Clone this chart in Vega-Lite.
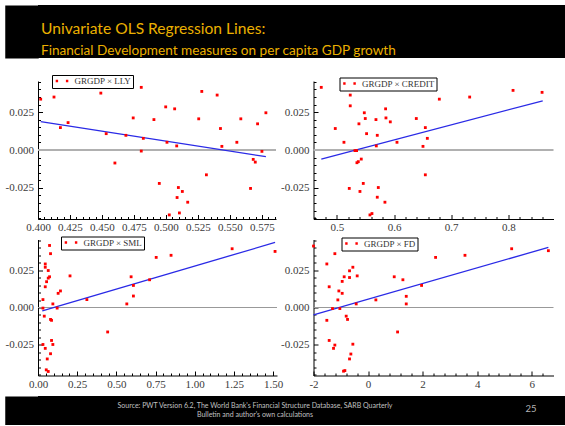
{
  "$schema": "https://vega.github.io/schema/vega-lite/v6.json",
  "background": "white",
  "padding": {"left": 5, "top": 5, "right": 0, "bottom": 0},
  "config": {
    "view": {"stroke": null},
    "axis": {"domainColor": "#000000", "domainWidth": 1, "tickColor": "#000000", "tickWidth": 1, "labelFont": "Liberation Serif", "labelFontSize": 11, "labelColor": "#3a3a3a", "grid": false, "title": null, "labelOverlap": false, "labelFlush": false},
    "legend": {"orient": "none", "title": null, "direction": "horizontal", "fillColor": "white", "strokeColor": "#000000", "padding": 1.5, "symbolType": "M-2.1,-0.4h0.8v0.8h-0.8zM1.3,-0.4h0.8v0.8h-0.8z", "symbolSize": 36, "symbolStrokeWidth": 0, "labelFont": "Liberation Serif", "labelFontSize": 9, "labelColor": "#333333", "labelOffset": 8, "symbolOffset": 4},
    "title": {"font": "Lato", "fontWeight": "normal", "subtitleFont": "Lato", "subtitleFontWeight": "normal", "color": "#bdbdbd", "subtitleColor": "#bdbdbd"}
  },
  "datasets": {
    "lly": [
      {"x": 0.4021, "y": 0.0336}, {"x": 0.4125, "y": 0.0350}, {"x": 0.4175, "y": 0.0148}, {"x": 0.4235, "y": 0.0181},
      {"x": 0.4491, "y": 0.0376}, {"x": 0.4533, "y": 0.0108}, {"x": 0.4601, "y": -0.0086}, {"x": 0.4687, "y": 0.0097},
      {"x": 0.4744, "y": 0.0212}, {"x": 0.4807, "y": 0.0414}, {"x": 0.4807, "y": -0.0007}, {"x": 0.4823, "y": 0.0077},
      {"x": 0.4906, "y": 0.0201}, {"x": 0.4948, "y": -0.0221}, {"x": 0.4998, "y": 0.0285}, {"x": 0.5008, "y": 0.0051},
      {"x": 0.5026, "y": -0.0429}, {"x": 0.5068, "y": 0.0272}, {"x": 0.5084, "y": 0.0027}, {"x": 0.5087, "y": -0.0314},
      {"x": 0.5097, "y": -0.0248}, {"x": 0.5105, "y": -0.0416}, {"x": 0.5128, "y": -0.0274}, {"x": 0.5170, "y": -0.0345},
      {"x": 0.5256, "y": 0.0206}, {"x": 0.5280, "y": 0.0387}, {"x": 0.5316, "y": -0.0164}, {"x": 0.5400, "y": 0.0363},
      {"x": 0.5426, "y": 0.0142}, {"x": 0.5437, "y": 0.0024}, {"x": 0.5554, "y": 0.0051}, {"x": 0.5585, "y": 0.0206},
      {"x": 0.5661, "y": -0.0254}, {"x": 0.5682, "y": -0.0062}, {"x": 0.5698, "y": -0.0080}, {"x": 0.5716, "y": 0.0173},
      {"x": 0.5750, "y": -0.0009}, {"x": 0.5781, "y": 0.0246}
    ],
    "lly_fit": [{"x": 0.4021, "y": 0.0188}, {"x": 0.5781, "y": -0.0044}],
    "credit": [
      {"x": 0.4726, "y": 0.0414}, {"x": 0.4971, "y": 0.0142}, {"x": 0.5123, "y": 0.0051}, {"x": 0.5216, "y": -0.0254},
      {"x": 0.5233, "y": 0.0363}, {"x": 0.5233, "y": 0.0292}, {"x": 0.5315, "y": -0.0004}, {"x": 0.5344, "y": -0.0004},
      {"x": 0.5350, "y": -0.0084}, {"x": 0.5374, "y": -0.0077}, {"x": 0.5385, "y": 0.0173}, {"x": 0.5403, "y": -0.0274},
      {"x": 0.5426, "y": -0.0060}, {"x": 0.5461, "y": -0.0221}, {"x": 0.5479, "y": 0.0246}, {"x": 0.5496, "y": 0.0208},
      {"x": 0.5519, "y": 0.0108}, {"x": 0.5578, "y": -0.0429}, {"x": 0.5613, "y": -0.0420}, {"x": 0.5683, "y": 0.0201},
      {"x": 0.5689, "y": 0.0027}, {"x": 0.5706, "y": 0.0097}, {"x": 0.5706, "y": -0.0312}, {"x": 0.5724, "y": -0.0248},
      {"x": 0.5840, "y": -0.0345}, {"x": 0.5852, "y": 0.0272}, {"x": 0.5858, "y": 0.0212}, {"x": 0.5934, "y": 0.0186},
      {"x": 0.6051, "y": 0.0051}, {"x": 0.6389, "y": 0.0208}, {"x": 0.6506, "y": 0.0024}, {"x": 0.6547, "y": 0.0148},
      {"x": 0.6547, "y": -0.0164}, {"x": 0.6582, "y": 0.0077}, {"x": 0.6792, "y": 0.0336}, {"x": 0.7323, "y": 0.0350},
      {"x": 0.8082, "y": 0.0394}, {"x": 0.8590, "y": 0.0381}
    ],
    "credit_fit": [{"x": 0.4726, "y": -0.0060}, {"x": 0.8601, "y": 0.0325}],
    "sml": [
      {"x": 0.0316, "y": 0.0053}, {"x": 0.0316, "y": -0.0004}, {"x": 0.0316, "y": -0.0248}, {"x": 0.0400, "y": -0.0058},
      {"x": 0.0463, "y": -0.0274}, {"x": 0.0463, "y": 0.0139}, {"x": 0.0463, "y": 0.0292}, {"x": 0.0463, "y": 0.0270},
      {"x": 0.0548, "y": 0.0173}, {"x": 0.0527, "y": -0.0418}, {"x": 0.0590, "y": -0.0345}, {"x": 0.0653, "y": 0.0248},
      {"x": 0.0653, "y": -0.0429}, {"x": 0.0653, "y": 0.0197}, {"x": 0.0737, "y": 0.0206}, {"x": 0.0737, "y": 0.0416},
      {"x": 0.0800, "y": 0.0361}, {"x": 0.0800, "y": -0.0310}, {"x": 0.0800, "y": -0.0080}, {"x": 0.0864, "y": -0.0086},
      {"x": 0.0864, "y": -0.0221}, {"x": 0.0948, "y": -0.0248}, {"x": 0.0948, "y": 0.0024}, {"x": 0.1222, "y": -0.0004},
      {"x": 0.1285, "y": 0.0095}, {"x": 0.1433, "y": 0.0111}, {"x": 0.2043, "y": 0.0212}, {"x": 0.3118, "y": 0.0053},
      {"x": 0.4445, "y": -0.0164}, {"x": 0.5667, "y": 0.0024}, {"x": 0.5941, "y": 0.0206}, {"x": 0.6088, "y": 0.0148},
      {"x": 0.6088, "y": 0.0077}, {"x": 0.7120, "y": 0.0186}, {"x": 0.7542, "y": 0.0336}, {"x": 0.8490, "y": 0.0350},
      {"x": 1.2387, "y": 0.0394}, {"x": 1.5126, "y": 0.0376}
    ],
    "sml_fit": [{"x": 0.0274, "y": -0.0022}, {"x": 1.5126, "y": 0.0436}],
    "fd": [
      {"x": -2.0, "y": 0.0412}, {"x": -1.511, "y": 0.0292}, {"x": -1.511, "y": -0.0086}, {"x": -1.425, "y": 0.0139},
      {"x": -1.425, "y": -0.0221}, {"x": -1.303, "y": -0.0007}, {"x": -1.266, "y": -0.0274}, {"x": -1.217, "y": 0.0361},
      {"x": -1.217, "y": -0.0252}, {"x": -1.107, "y": 0.0051}, {"x": -1.070, "y": 0.0111}, {"x": -1.034, "y": -0.0007},
      {"x": -0.948, "y": 0.0175}, {"x": -0.948, "y": 0.0095}, {"x": -0.899, "y": -0.0427}, {"x": -0.850, "y": -0.0423},
      {"x": -0.875, "y": 0.0206}, {"x": -0.801, "y": -0.0058}, {"x": -0.752, "y": -0.0080}, {"x": -0.679, "y": 0.0201},
      {"x": -0.679, "y": 0.0246}, {"x": -0.679, "y": -0.0345}, {"x": -0.630, "y": -0.0312}, {"x": -0.557, "y": 0.0270},
      {"x": -0.557, "y": -0.0246}, {"x": -0.434, "y": 0.0024}, {"x": -0.398, "y": 0.0212}, {"x": 0.287, "y": 0.0051},
      {"x": 0.960, "y": 0.0206}, {"x": 1.083, "y": -0.0164}, {"x": 1.278, "y": 0.0186}, {"x": 1.401, "y": 0.0075},
      {"x": 1.401, "y": 0.0024}, {"x": 1.963, "y": 0.0148}, {"x": 2.477, "y": 0.0336}, {"x": 3.554, "y": 0.0350},
      {"x": 5.266, "y": 0.0394}, {"x": 6.612, "y": 0.0381}
    ],
    "fd_fit": [{"x": -2.0, "y": -0.0049}, {"x": 6.612, "y": 0.0403}],
    "zero": [{"y": 0}]
  },
  "spacing": 16,
  "vconcat": [
    {
      "width": 527,
      "height": 53,
      "view": {"fill": "black", "stroke": null},
      "data": {"values": []},
      "mark": "text",
      "encoding": {
        "y": {"field": "v", "type": "quantitative", "scale": {"domain": [0, 1]},
              "axis": {"orient": "left", "offset": 16.5, "domainWidth": 33.5, "domainColor": "#000000", "ticks": false, "labels": false, "title": null, "grid": false}}
      },
      "title": {
        "text": "Univariate OLS Regression Lines:",
        "subtitle": "Financial Development measures on per capita GDP growth",
        "anchor": "start", "frame": "group", "orient": "top",
        "offset": -53, "dx": 3,
        "fontSize": 15.6, "color": "#EBB000",
        "subtitleFontSize": 13.6, "subtitleColor": "#EBB000", "subtitlePadding": 7
      }
    },
    {
      "spacing": 7,
      "resolve": {"scale": {"color": "independent"}, "legend": {"color": "independent"}},
      "vconcat": [
        {
          "columns": 2,
          "bounds": "flush",
          "spacing": {"row": 20.5, "column": 36.5},
          "resolve": {"scale": {"color": "independent"}, "legend": {"color": "independent"}},
          "concat": [
            {
              "width": 238, "height": 138,
              "resolve": {"axis": {"x": "independent", "y": "independent"}},
              "layer": [
                {"data": {"name": "zero"}, "mark": {"type": "rule", "color": "#b0b0b0", "strokeWidth": 2},
                 "encoding": {"y": {"field": "y", "type": "quantitative", "scale": {"domain": [-0.0456, 0.0456], "nice": false, "zero": false}, "axis": null}}},
                {"data": {"name": "lly_fit"}, "mark": {"type": "line", "color": "#2a2ae6", "strokeWidth": 1.3},
                 "encoding": {
                   "x": {"field": "x", "type": "quantitative", "scale": {"domain": [0.4, 0.586], "nice": false, "zero": false},
                         "axis": {"orient": "bottom", "values": [0.405,0.41,0.415,0.42,0.43,0.435,0.44,0.445,0.455,0.46,0.465,0.47,0.48,0.485,0.49,0.495,0.505,0.51,0.515,0.52,0.53,0.535,0.54,0.545,0.555,0.56,0.565,0.57,0.58,0.585], "labels": false, "domain": false, "tickSize": -2.5}},
                   "y": {"field": "y", "type": "quantitative", "scale": {"domain": [-0.0456, 0.0456], "nice": false, "zero": false},
                         "axis": {"orient": "left", "values": [-0.045,-0.04,-0.035,-0.03,-0.02,-0.015,-0.01,-0.005,0.005,0.01,0.015,0.02,0.03,0.035,0.04,0.045], "labels": false, "domain": false, "tickSize": -2.5}}
                 }},
                {"data": {"name": "lly"}, "mark": {"type": "point", "shape": "square", "filled": true, "size": 8, "opacity": 1},
                 "encoding": {
                   "x": {"field": "x", "type": "quantitative", "scale": {"domain": [0.4, 0.586], "nice": false, "zero": false},
                         "axis": {"orient": "bottom", "values": [0.4,0.425,0.45,0.475,0.5,0.525,0.55,0.575], "format": ".3f", "tickSize": -4.5, "labelPadding": 6.5}},
                   "y": {"field": "y", "type": "quantitative", "scale": {"domain": [-0.0456, 0.0456], "nice": false, "zero": false},
                         "axis": {"orient": "left", "values": [-0.025, 0, 0.025], "format": ".3f", "labelExpr": "replace(datum.label, '\u2212', '-')", "tickSize": -4.5, "labelPadding": 9}},
                   "color": {"datum": "GRGDP × LLY", "type": "nominal", "scale": {"range": ["#ff0000"]}, "legend": {"legendX": 14, "legendY": -6}}
                 }}
              ]
            },
            {
              "width": 240, "height": 138,
              "resolve": {"axis": {"x": "independent", "y": "independent"}},
              "layer": [
                {"data": {"name": "zero"}, "mark": {"type": "rule", "color": "#b0b0b0", "strokeWidth": 2},
                 "encoding": {"y": {"field": "y", "type": "quantitative", "scale": {"domain": [-0.0456, 0.0456], "nice": false, "zero": false}, "axis": null}}},
                {"data": {"name": "credit_fit"}, "mark": {"type": "line", "color": "#2a2ae6", "strokeWidth": 1.3},
                 "encoding": {
                   "x": {"field": "x", "type": "quantitative", "scale": {"domain": [0.459, 0.879], "nice": false, "zero": false},
                         "axis": {"orient": "bottom", "values": [0.46,0.48,0.52,0.54,0.56,0.58,0.62,0.64,0.66,0.68,0.72,0.74,0.76,0.78,0.82,0.84,0.86], "labels": false, "domain": false, "tickSize": -2.5}},
                   "y": {"field": "y", "type": "quantitative", "scale": {"domain": [-0.0456, 0.0456], "nice": false, "zero": false},
                         "axis": {"orient": "left", "values": [-0.045,-0.04,-0.035,-0.03,-0.02,-0.015,-0.01,-0.005,0.005,0.01,0.015,0.02,0.03,0.035,0.04,0.045], "labels": false, "domain": false, "tickSize": -2.5}}
                 }},
                {"data": {"name": "credit"}, "mark": {"type": "point", "shape": "square", "filled": true, "size": 8, "opacity": 1},
                 "encoding": {
                   "x": {"field": "x", "type": "quantitative", "scale": {"domain": [0.459, 0.879], "nice": false, "zero": false},
                         "axis": {"orient": "bottom", "values": [0.5,0.6,0.7,0.8], "format": ".1f", "tickSize": -4.5, "labelPadding": 6.5}},
                   "y": {"field": "y", "type": "quantitative", "scale": {"domain": [-0.0456, 0.0456], "nice": false, "zero": false},
                         "axis": {"orient": "left", "values": [-0.025, 0, 0.025], "format": ".3f", "labelExpr": "replace(datum.label, '\u2212', '-')", "tickSize": -4.5, "labelPadding": 9}},
                   "color": {"datum": "GRGDP × CREDIT", "type": "nominal", "scale": {"range": ["#ff0000"]}, "legend": {"legendX": 26, "legendY": -3.5}}
                 }}
              ]
            },
            {
              "width": 239, "height": 136,
              "resolve": {"axis": {"x": "independent", "y": "independent"}},
              "layer": [
                {"data": {"name": "zero"}, "mark": {"type": "rule", "color": "#999999", "strokeWidth": 1},
                 "encoding": {"y": {"field": "y", "type": "quantitative", "scale": {"domain": [-0.0456, 0.0456], "nice": false, "zero": false}, "axis": null}}},
                {"data": {"name": "sml_fit"}, "mark": {"type": "line", "color": "#2a2ae6", "strokeWidth": 1.3},
                 "encoding": {
                   "x": {"field": "x", "type": "quantitative", "scale": {"domain": [0, 1.525], "nice": false, "zero": false},
                         "axis": {"orient": "bottom", "values": [0.05,0.1,0.15,0.2,0.3,0.35,0.4,0.45,0.55,0.6,0.65,0.7,0.8,0.85,0.9,0.95,1.05,1.1,1.15,1.2,1.3,1.35,1.4,1.45], "labels": false, "domain": false, "tickSize": -2.5}},
                   "y": {"field": "y", "type": "quantitative", "scale": {"domain": [-0.0456, 0.0456], "nice": false, "zero": false},
                         "axis": {"orient": "left", "values": [-0.045,-0.04,-0.035,-0.03,-0.02,-0.015,-0.01,-0.005,0.005,0.01,0.015,0.02,0.03,0.035,0.04,0.045], "labels": false, "domain": false, "tickSize": -2.5}}
                 }},
                {"data": {"name": "sml"}, "mark": {"type": "point", "shape": "square", "filled": true, "size": 8, "opacity": 1},
                 "encoding": {
                   "x": {"field": "x", "type": "quantitative", "scale": {"domain": [0, 1.525], "nice": false, "zero": false},
                         "axis": {"orient": "bottom", "values": [0,0.25,0.5,0.75,1,1.25,1.5], "format": ".2f", "tickSize": -4.5, "labelPadding": 7}},
                   "y": {"field": "y", "type": "quantitative", "scale": {"domain": [-0.0456, 0.0456], "nice": false, "zero": false},
                         "axis": {"orient": "left", "values": [-0.025, 0, 0.025], "format": ".3f", "labelExpr": "replace(datum.label, '\u2212', '-')", "tickSize": -4.5, "labelPadding": 9}},
                   "color": {"datum": "GRGDP × SML", "type": "nominal", "scale": {"range": ["#ff0000"]}, "legend": {"legendX": 23, "legendY": -3}}
                 }}
              ]
            },
            {
              "width": 240, "height": 136,
              "resolve": {"axis": {"x": "independent", "y": "independent"}},
              "layer": [
                {"data": {"name": "zero"}, "mark": {"type": "rule", "color": "#999999", "strokeWidth": 1},
                 "encoding": {"y": {"field": "y", "type": "quantitative", "scale": {"domain": [-0.0456, 0.0456], "nice": false, "zero": false}, "axis": null}}},
                {"data": {"name": "fd_fit"}, "mark": {"type": "line", "color": "#2a2ae6", "strokeWidth": 1.3},
                 "encoding": {
                   "x": {"field": "x", "type": "quantitative", "scale": {"domain": [-2, 6.8], "nice": false, "zero": false},
                         "axis": {"orient": "bottom", "values": [-1.6,-1.2,-0.8,-0.4,0.4,0.8,1.2,1.6,2.4,2.8,3.2,3.6,4.4,4.8,5.2,5.6,6.4], "labels": false, "domain": false, "tickSize": -2.5}},
                   "y": {"field": "y", "type": "quantitative", "scale": {"domain": [-0.0456, 0.0456], "nice": false, "zero": false},
                         "axis": {"orient": "left", "values": [-0.045,-0.04,-0.035,-0.03,-0.02,-0.015,-0.01,-0.005,0.005,0.01,0.015,0.02,0.03,0.035,0.04,0.045], "labels": false, "domain": false, "tickSize": -2.5}}
                 }},
                {"data": {"name": "fd"}, "mark": {"type": "point", "shape": "square", "filled": true, "size": 8, "opacity": 1},
                 "encoding": {
                   "x": {"field": "x", "type": "quantitative", "scale": {"domain": [-2, 6.8], "nice": false, "zero": false},
                         "axis": {"orient": "bottom", "values": [-2,0,2,4,6], "format": "d", "labelExpr": "replace(datum.label, '\u2212', '-')", "tickSize": -4.5, "labelPadding": 7}},
                   "y": {"field": "y", "type": "quantitative", "scale": {"domain": [-0.0456, 0.0456], "nice": false, "zero": false},
                         "axis": {"orient": "left", "values": [-0.025, 0, 0.025], "format": ".3f", "labelExpr": "replace(datum.label, '\u2212', '-')", "tickSize": -4.5, "labelPadding": 9}},
                   "color": {"datum": "GRGDP × FD", "type": "nominal", "scale": {"range": ["#ff0000"]}, "legend": {"legendX": 28, "legendY": -2}}
                 }}
              ]
            }
          ]
        },
        {
          "spacing": 0,
          "hconcat": [
            {
              "width": 434, "height": 29,
              "view": {"fill": "black", "stroke": null},
              "data": {"values": []},
              "mark": "text",
              "encoding": {
                "y": {"field": "v", "type": "quantitative", "scale": {"domain": [0, 1]},
                      "axis": {"orient": "left", "offset": 16.5, "domainWidth": 33.5, "domainColor": "#000000", "ticks": false, "labels": false, "title": null, "grid": false}}
              },
              "title": {
                "text": ["Source: PWT Version 6.2, The World Bank's Financial Structure Database, SARB Quarterly", "Bulletin and author's own calculations"],
                "anchor": "middle", "frame": "group", "orient": "top", "offset": -22,
                "fontSize": 7, "color": "#c0c0c0", "lineHeight": 9.5
              }
            },
            {
              "width": 93, "height": 29,
              "view": {"fill": "black", "stroke": null},
              "data": {"values": []},
              "mark": "text",
              "title": {
                "text": "25",
                "anchor": "middle", "frame": "group", "orient": "top", "offset": -17, "dx": 12.5,
                "fontSize": 9.5, "color": "#b5b5b5"
              }
            }
          ]
        }
      ]
    }
  ]
}
